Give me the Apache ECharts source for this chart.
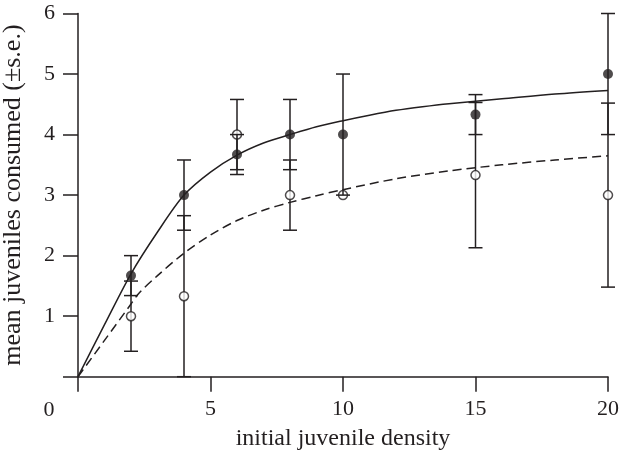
<!DOCTYPE html>
<html>
<head>
<meta charset="utf-8">
<script src="https://cdn.jsdelivr.net/npm/echarts@6/dist/echarts.min.js"></script>
<style>
  html, body { margin: 0; padding: 0; background: #fff; }
  #chart { width: 621px; height: 459px; }
</style>
</head>
<body>
<div id="chart"></div>
<script>
// observed means (± s.e.) at each initial density
var densities = [2, 4, 6, 8, 10, 15, 20];
var filledMean = [1.67, 3.0, 3.67, 4.0, 4.0, 4.33, 5.0];
var filledSe = [0.33, 0.58, 0.33, 0.58, 1.0, 0.33, 1.0];
var openMean = [1.0, 1.33, 4.0, 3.0, 3.0, 3.33, 3.0];
var openSe = [0.58, 1.33, 0.58, 0.58, 0, 1.2, 1.52];

// fitted curves
var solidX = [0, 1, 2, 3, 4, 5, 6, 7, 8, 9, 10, 11, 12, 13, 14, 16, 18, 20];
var solidY = [0, 0.86, 1.7, 2.39, 3.0, 3.38, 3.66, 3.86, 4.0, 4.13, 4.23, 4.32, 4.4, 4.46, 4.51, 4.59, 4.67, 4.73];
var dashX = [0, 1, 2, 2.3, 3, 4, 5, 6, 7, 8, 9, 10, 12, 14, 16, 18, 20];
var dashY = [0, 0.6, 1.2, 1.38, 1.67, 2.04, 2.34, 2.58, 2.75, 2.88, 2.99, 3.09, 3.27, 3.4, 3.5, 3.58, 3.65];

var ink = '#231f20';
var serif = '"Liberation Serif", "DejaVu Serif", serif';

function pairs(xs, ys) {
  return xs.map(function (x, i) { return [x, ys[i]]; });
}
function bars(means, ses) {
  return densities.map(function (d, i) {
    return [d, means[i] - ses[i], means[i] + ses[i]];
  });
}
function renderBar(params, api) {
  var x = api.value(0);
  if (api.value(2) - api.value(1) <= 0) return null;
  var top = api.coord([x, api.value(2)]);
  var bot = api.coord([x, api.value(1)]);
  var w = 7;
  var st = { stroke: ink, lineWidth: 1.5 };
  return {
    type: 'group',
    children: [
      { type: 'line', shape: { x1: top[0], y1: top[1], x2: bot[0], y2: bot[1] }, style: st },
      { type: 'line', shape: { x1: top[0] - w, y1: top[1], x2: top[0] + w, y2: top[1] }, style: st },
      { type: 'line', shape: { x1: bot[0] - w, y1: bot[1], x2: bot[0] + w, y2: bot[1] }, style: st }
    ]
  };
}

var chart = echarts.init(document.getElementById('chart'));
var option = {
  backgroundColor: '#fff',
  animation: false,
  grid: { left: 78, right: 13, top: 13.5, bottom: 82.3, outerBoundsMode: 'none', containLabel: false },
  xAxis: {
    type: 'value', min: 0, max: 20, interval: 5,
    name: 'initial juvenile density',
    nameLocation: 'middle', nameGap: 50,
    nameTextStyle: { fontFamily: serif, fontSize: 24, color: ink },
    axisLine: { lineStyle: { color: ink, width: 1.5 } },
    axisTick: { length: 15, lineStyle: { color: ink, width: 1.5 } },
    axisLabel: {
      margin: 22, fontFamily: serif, fontSize: 22, color: ink,
      formatter: function (v) { return v === 0 ? '' : v; }
    },
    splitLine: { show: false }
  },
  yAxis: {
    type: 'value', min: 0, max: 6, interval: 1,
    name: 'mean juveniles consumed (±s.e.)',
    nameLocation: 'middle', nameGap: 52, nameRotate: 90,
    nameTextStyle: { fontFamily: serif, fontSize: 26, color: ink },
    axisLine: { lineStyle: { color: ink, width: 1.5 } },
    axisTick: { length: 15, lineStyle: { color: ink, width: 1.5 } },
    axisLabel: {
      margin: 23, fontFamily: serif, fontSize: 22, color: ink,
      formatter: function (v) { return v === 0 ? '' : v; }
    },
    splitLine: { show: false }
  },
  graphic: [{
    type: 'text', x: 49, y: 410,
    style: { text: '0', font: '22px ' + serif, fill: ink, align: 'center', verticalAlign: 'middle' }
  }],
  series: [
    {
      type: 'line', data: pairs(solidX, solidY), smooth: 0.3, showSymbol: false,
      lineStyle: { color: ink, width: 1.5 }, z: 1
    },
    {
      type: 'line', data: pairs(dashX, dashY), smooth: 0.3, showSymbol: false,
      lineStyle: { color: ink, width: 1.5, type: [9, 5] }, z: 1
    },
    {
      type: 'custom', data: bars(openMean, openSe), renderItem: renderBar,
      encode: { x: 0, y: [1, 2] }, z: 2
    },
    {
      type: 'scatter', data: pairs(densities, openMean), symbol: 'circle', symbolSize: 9,
      itemStyle: { color: '#fff', borderColor: ink, borderWidth: 1.5 }, z: 3
    },
    {
      type: 'custom', data: bars(filledMean, filledSe), renderItem: renderBar,
      encode: { x: 0, y: [1, 2] }, z: 4
    },
    {
      type: 'scatter', data: pairs(densities, filledMean), symbol: 'circle', symbolSize: 10,
      itemStyle: { color: ink }, z: 5
    }
  ]
};
chart.setOption(option);
</script>
</body>
</html>
